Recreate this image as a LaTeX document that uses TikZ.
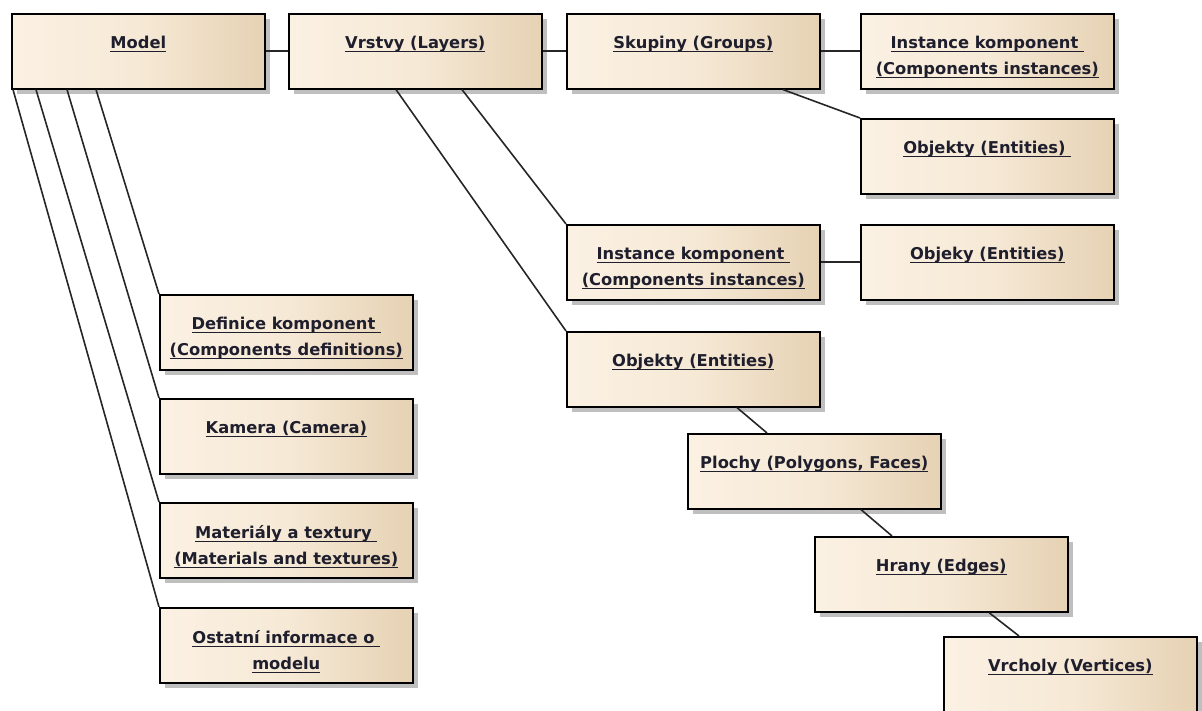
\documentclass[tikz,border=0pt]{standalone}
\usepackage{fontspec}
\setmainfont{DejaVu Sans}
\usetikzlibrary{calc,shadows}
\definecolor{boxleft}{RGB}{251,241,227}
\definecolor{boxmid}{RGB}{246,233,214}
\definecolor{boxright}{RGB}{230,210,180}
\definecolor{captext}{RGB}{30,30,45}
\newcommand{\undl}[1]{\sbox0{#1}\rlap{\rule[-3.6pt]{\wd0}{1.3pt}}\usebox0}
\begin{document}
\begin{tikzpicture}[x=1pt,y=-1pt,
  ent/.style={draw=black, line width=1.6pt, anchor=north west, minimum width=253pt, minimum height=75pt, inner sep=0pt,
    left color=boxleft, right color=boxright, middle color=boxmid,
    drop shadow={shadow xshift=5pt, shadow yshift=-5pt, fill=black!25, opacity=1}},
  captxt/.style={anchor=north, yshift=-23pt, inner sep=0pt, align=center, text=captext, font=\bfseries\fontsize{16.3}{26}\selectfont},
  link/.style={draw=black!85, line width=1.6pt}]
  \useasboundingbox (0,0) rectangle (1202,711);
  % top row
  \node[ent] (model) at (11,13) {};
  \node[ent] (vrstvy) at (288,13) {};
  \node[ent] (skup) at (566,13) {};
  \node[ent] (instA) at (860,13) {};
  \node[ent] (objA) at (860,118) {};
  % layer contents
  \node[ent] (instB) at (566,224) {};
  \node[ent] (objB) at (860,224) {};
  \node[ent] (objC) at (566,331) {};
  \node[ent] (ploch) at (687,433) {};
  \node[ent] (hrany) at (814,536) {};
  \node[ent] (vrch) at (943,636) {};
  % model contents
  \node[ent] (defk) at (159,294) {};
  \node[ent] (kam) at (159,398) {};
  \node[ent] (mat) at (159,502) {};
  \node[ent] (ost) at (159,607) {};
  % captions
  \node[captxt] (model-t) at (model.north) {\undl{Model}};
  \node[captxt] (vrstvy-t) at (vrstvy.north) {\undl{Vrstvy (Layers)}};
  \node[captxt] (skup-t) at (skup.north) {\undl{Skupiny (Groups)}};
  \node[captxt] (instA-t) at (instA.north) {\undl{Instance komponent\ }\\\undl{(Components instances)}};
  \node[captxt] (objA-t) at (objA.north) {\undl{Objekty (Entities)\ }};
  \node[captxt] (instB-t) at (instB.north) {\undl{Instance komponent\ }\\\undl{(Components instances)}};
  \node[captxt] (objB-t) at (objB.north) {\undl{Objeky (Entities)}};
  \node[captxt] (objC-t) at (objC.north) {\undl{Objekty (Entities)}};
  \node[captxt] (ploch-t) at (ploch.north) {\undl{Plochy (Polygons, Faces)}};
  \node[captxt] (hrany-t) at (hrany.north) {\undl{Hrany (Edges)}};
  \node[captxt] (vrch-t) at (vrch.north) {\undl{Vrcholy (Vertices)}};
  \node[captxt] (defk-t) at (defk.north) {\undl{Definice komponent\ }\\\undl{(Components definitions)}};
  \node[captxt] (kam-t) at (kam.north) {\undl{Kamera (Camera)}};
  \node[captxt] (mat-t) at (mat.north) {\undl{Materiály a textury\ }\\\undl{(Materials and textures)}};
  \node[captxt] (ost-t) at (ost.north) {\undl{Ostatní informace o\ }\\\undl{modelu}};
  % connectors
  \draw[link] (model.east) -- (vrstvy.west);
  \draw[link] (vrstvy.east) -- (skup.west);
  \draw[link] (skup.east) -- (instA.west);
  \draw[link] (instB.east) -- (objB.west);
  \draw[link] ($(skup.south west)+(217,0)$) -- (objA.north west);
  \draw[link] ($(vrstvy.south west)+(108,0)$) -- (objC.north west);
  \draw[link] ($(vrstvy.south west)+(174,0)$) -- (instB.north west);
  \draw[link] ($(objC.south west)+(171,0)$) -- ($(ploch.north west)+(80,0)$);
  \draw[link] ($(ploch.south west)+(174,0)$) -- ($(hrany.north west)+(78,0)$);
  \draw[link] ($(hrany.south west)+(175,0)$) -- ($(vrch.north west)+(76,0)$);
  \foreach \dx/\dst in {2/ost,25/mat,56/kam,85/defk}
    \draw[link] ($(model.south west)+(\dx,0)$) -- (\dst.north west);
\end{tikzpicture}
\end{document}
